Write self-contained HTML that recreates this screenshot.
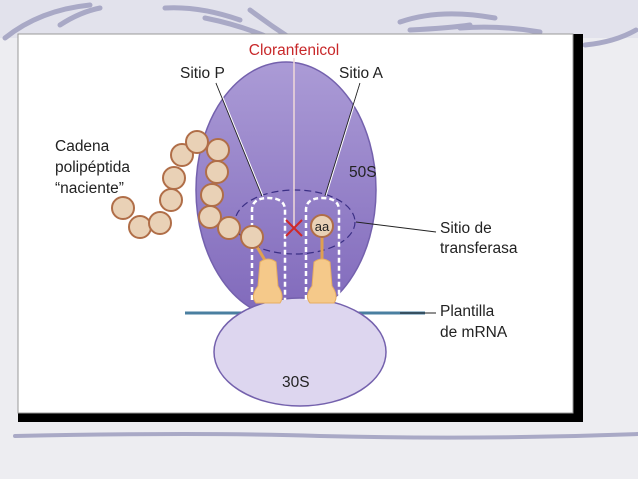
<!DOCTYPE html>
<html><head><meta charset="utf-8"><style>
body{margin:0;width:638px;height:479px;background:#eeeef2;overflow:hidden;font-family:"Liberation Sans",sans-serif}
</style></head><body>
<svg width="638" height="479" viewBox="0 0 638 479" xmlns="http://www.w3.org/2000/svg" style="position:absolute;left:0;top:0">
<defs>
<linearGradient id="g50" x1="0" y1="0" x2="0" y2="1"><stop offset="0" stop-color="#ab9bd6"/><stop offset="1" stop-color="#8069bb"/></linearGradient>
</defs>
<rect width="638" height="479" fill="#ededf1"/>
<rect width="638" height="38" fill="#e2e2ec"/>
<g stroke="#a9a9c6" stroke-width="5" fill="none" stroke-linecap="round">
<path d="M5 38 Q40 10 90 5"/><path d="M60 25 Q80 12 100 8"/>
<path d="M165 8 Q200 6 240 20"/><path d="M205 18 Q240 25 270 38"/>
<path d="M250 10 Q270 25 290 38"/>
<path d="M400 22 Q440 8 495 18"/><path d="M410 30 Q450 28 470 25"/>
<path d="M460 28 Q500 25 540 32"/><path d="M585 45 Q615 42 636 30"/>
<path d="M15 436 Q200 432 320 436 Q480 440 638 434" stroke-width="4"/>
</g>
<rect x="572" y="34" width="11" height="388" fill="#000"/>
<rect x="18" y="412" width="565" height="10" fill="#000"/>
<rect x="18" y="34" width="555" height="379" fill="#fff" stroke="#999" stroke-width="1"/>
<ellipse cx="286" cy="190" rx="90" ry="128" fill="url(#g50)" stroke="#7461ad" stroke-width="1.5"/>
<line x1="185" y1="313" x2="425" y2="313" stroke="#4a7fa0" stroke-width="3"/>
<ellipse cx="300" cy="352" rx="86" ry="54" fill="#ddd6ef" stroke="#7461ad" stroke-width="1.5"/>
<ellipse cx="295" cy="222" rx="60" ry="32" fill="none" stroke="#3b2f85" stroke-width="1.2" stroke-dasharray="7 4"/>
<path d="M252 300 V210 Q252 198 268 198 Q285 198 285 210 V300" fill="none" stroke="#fff" stroke-width="2.5" stroke-dasharray="5 3"/>
<path d="M306 300 V210 Q306 198 322 198 Q339 198 339 210 V300" fill="none" stroke="#fff" stroke-width="2.5" stroke-dasharray="5 3"/>
<line x1="253" y1="240" x2="266" y2="262" stroke="#e0a050" stroke-width="3"/>
<line x1="322" y1="232" x2="322" y2="262" stroke="#e0a050" stroke-width="3"/>
<path d="M260 262 Q268 256 276 262 L278 286 Q285 296 280 303 H256 Q250 296 258 286 Z" fill="#f5c98a" stroke="#e6ad60"/>
<path d="M314 262 Q322 256 330 262 L332 286 Q339 296 334 303 H310 Q304 296 312 286 Z" fill="#f5c98a" stroke="#e6ad60"/>
<g fill="#e9d1b6" stroke="#b06e48" stroke-width="2">
<circle cx="123" cy="208" r="11"/><circle cx="140" cy="227" r="11"/><circle cx="160" cy="223" r="11"/>
<circle cx="171" cy="200" r="11"/><circle cx="174" cy="178" r="11"/><circle cx="182" cy="155" r="11"/>
<circle cx="197" cy="142" r="11"/><circle cx="218" cy="150" r="11"/><circle cx="217" cy="172" r="11"/>
<circle cx="212" cy="195" r="11"/><circle cx="210" cy="217" r="11"/><circle cx="229" cy="228" r="11"/>
<circle cx="252" cy="237" r="11"/>
<circle cx="322" cy="226" r="11"/>
</g>
<text x="322" y="231" font-size="13" text-anchor="middle" fill="#222">aa</text>
<line x1="294" y1="58" x2="294" y2="228" stroke="#fff" stroke-width="1.5"/>
<line x1="294" y1="58" x2="294" y2="228" stroke="#d9a0a0" stroke-width="0.6"/>
<g stroke="#d02828" stroke-width="2"><line x1="286" y1="220" x2="302" y2="236"/><line x1="302" y1="220" x2="286" y2="236"/></g>
<g stroke="#222" stroke-width="1" fill="none">
<path d="M216 83 L262 196"/><path d="M217 83 L263 196" stroke="#fff"/>
<path d="M360 83 L325 196"/><path d="M361 83 L326 196" stroke="#fff"/>
<line x1="356" y1="222" x2="436" y2="232"/>
<line x1="400" y1="313" x2="436" y2="313"/>
</g>
<g font-size="15.5" fill="#222">
<text x="294" y="55" text-anchor="middle" fill="#c8282a">Cloranfenicol</text>
<text x="180" y="78">Sitio P</text>
<text x="339" y="78">Sitio A</text>
<text x="55" y="151">Cadena</text>
<text x="55" y="172">polipéptida</text>
<text x="55" y="193">“naciente”</text>
<text x="349" y="177">50S</text>
<text x="440" y="233">Sitio de</text>
<text x="440" y="253">transferasa</text>
<text x="440" y="316">Plantilla</text>
<text x="440" y="337">de mRNA</text>
<text x="282" y="387">30S</text>
</g>
</svg>
</body></html>
